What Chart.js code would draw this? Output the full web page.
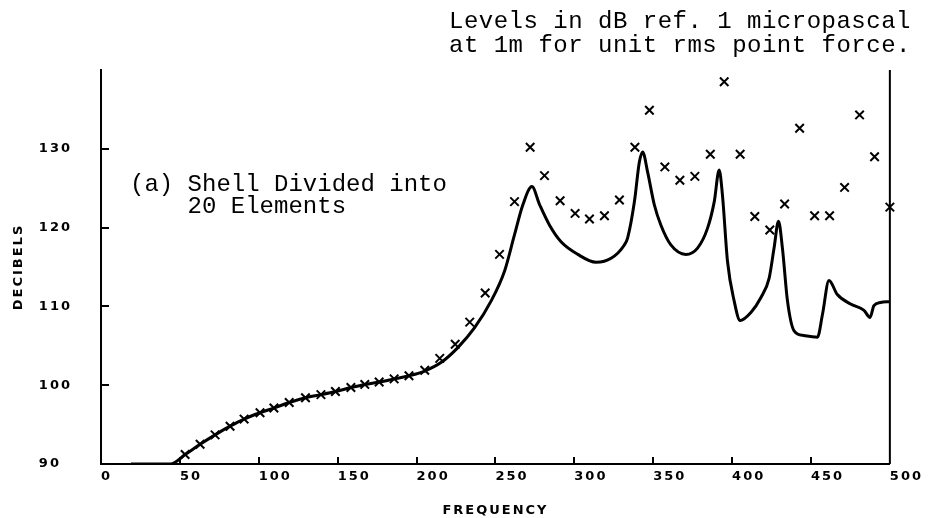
<!DOCTYPE html>
<html>
<head>
<meta charset="utf-8">
<script src="https://cdn.jsdelivr.net/npm/chart.js@4.4.0/dist/chart.umd.min.js"></script>
<style>
  html, body { margin: 0; padding: 0; background: #fff; }
  canvas { display: block; }
</style>
</head>
<body>
<canvas id="levelChart" width="928" height="518"></canvas>
<script>
// computed curve (solid line)
var curveFreq = [19, 44, 53.3, 62.8, 72.3, 81.8, 90.7, 100.8, 109.6, 119.3, 129.6, 139.4, 148.6, 158.4,
  167.2, 176.3, 185.8, 195.2, 205.2, 215.7, 226.3, 236.8, 247.3, 255.8, 262.1, 267.4, 273.1, 278.0,
  284.3, 291.6, 302.2, 313.8, 323.3, 331.7, 333.8, 338.1, 341.2, 343.3, 346.5, 350.7, 354.9, 361.2,
  370.7, 378.1, 384.4, 388.7, 391.8, 393.9, 397.1, 401.3, 405.1, 411.8, 418.2, 423.5, 426.6, 429.4,
  431.9, 435.1, 439.3, 445.6, 454.1, 457.3, 461.4, 466.7, 475.1, 483.6, 487.4, 489.9, 494.1, 500];
var curveDb = [90, 90, 91.2, 92.5, 93.7, 94.8, 95.7, 96.5, 97.1, 97.8, 98.4, 98.8, 99.2, 99.7,
  100.1, 100.4, 100.8, 101.2, 101.8, 102.9, 104.8, 107.3, 110.7, 114.5, 119.1, 122.9, 125.2, 122.9,
  120.3, 118.2, 116.6, 115.6, 116.1, 117.8, 118.7, 123.3, 128.3, 129.6, 127.0, 122.9, 120.3, 117.8,
  116.6, 117.4, 119.9, 123.3, 127.3, 124.1, 115.7, 110.7, 108.2, 109.2, 111.1, 113.6, 117.4, 120.8,
  117.4, 110.7, 106.9, 106.3, 106.1, 109.0, 113.3, 111.5, 110.3, 109.5, 108.6, 110.1, 110.5, 110.6];

// measured points (x marks)
var markFreq = [53.3, 62.8, 72.3, 81.8, 90.7, 100.8, 109.6, 119.3, 129.6, 139.4, 148.6, 158.4,
  167.2, 176.3, 185.8, 195.2, 205.2, 214.7, 224.5, 233.7, 243.5, 252.6, 262.1, 272.0, 281.1, 291.0,
  300.5, 309.6, 319.1, 328.6, 338.4, 347.6, 357.4, 366.9, 376.4, 386.2, 395.0, 405.1, 414.4, 423.9,
  433.3, 442.8, 452.3, 461.8, 471.3, 480.8, 490.3, 500.0];
var markDb = [91.2, 92.5, 93.7, 94.8, 95.7, 96.5, 97.1, 97.8, 98.4, 98.8, 99.2, 99.7,
  100.1, 100.4, 100.8, 101.2, 101.9, 103.4, 105.2, 108.0, 111.7, 116.6, 123.3, 130.2, 126.6, 123.4,
  121.8, 121.1, 121.5, 123.5, 130.2, 134.9, 127.7, 126.0, 126.5, 129.3, 138.5, 129.3, 121.4, 119.7,
  123.0, 132.6, 121.5, 121.5, 125.1, 134.3, 129.0, 122.6];

var xTicks = [0, 50, 100, 150, 200, 250, 300, 350, 400, 450, 500];
var yTicks = [90, 100, 110, 120, 130];

var noteLines = ['Levels in dB ref. 1 micropascal', 'at 1m for unit rms point force.'];
var caseLines = ['(a) Shell Divided into', '    20 Elements'];

function toPoints(xs, ys) {
  return xs.map(function (x, i) { return { x: x, y: ys[i] }; });
}

var axisFont = { family: '"DejaVu Sans", sans-serif', size: 13, weight: 'bold' };

// wide plotter-style lettering for the axis text
var spacing = {
  id: 'spacing',
  beforeLayout: function (chart) { chart.ctx.letterSpacing = '2px'; },
  beforeDraw: function (chart) { chart.ctx.letterSpacing = '2px'; }
};

// inward tick marks, right frame line and the typed notes
var frame = {
  id: 'frame',
  afterDraw: function (chart) {
    var ctx = chart.ctx, area = chart.chartArea;
    var x = chart.scales.x, y = chart.scales.y;
    ctx.save();
    ctx.strokeStyle = '#000';
    ctx.lineWidth = 2;
    ctx.beginPath();
    xTicks.forEach(function (v) {
      if (v <= x.min || v >= x.max) return;
      var px = Math.round(x.getPixelForValue(v));
      ctx.moveTo(px, area.bottom);
      ctx.lineTo(px, area.bottom - 7);
    });
    yTicks.forEach(function (v) {
      if (v <= y.min || v >= y.max) return;
      var py = Math.round(y.getPixelForValue(v));
      ctx.moveTo(area.left, py);
      ctx.lineTo(area.left + 8, py);
    });
    ctx.moveTo(area.right, area.top);
    ctx.lineTo(area.right, area.bottom);
    ctx.stroke();

    ctx.fillStyle = '#000';
    ctx.textAlign = 'left';
    ctx.textBaseline = 'alphabetic';
    ctx.font = '24px "Liberation Mono", monospace';
    ctx.letterSpacing = '0.5px';
    ctx.fillText(noteLines[0], 449, 28);
    ctx.fillText(noteLines[1], 449, 52);
    ctx.letterSpacing = '0px';
    ctx.fillText(caseLines[0], 130, 191);
    ctx.fillText(caseLines[1], 130, 213);
    ctx.restore();
  }
};

new Chart(document.getElementById('levelChart'), {
  type: 'scatter',
  data: {
    datasets: [{
      label: 'computed',
      data: toPoints(curveFreq, curveDb),
      showLine: true,
      borderColor: '#000',
      borderWidth: 3,
      pointRadius: 0,
      cubicInterpolationMode: 'monotone'
    }, {
      label: 'measured',
      data: toPoints(markFreq, markDb),
      showLine: false,
      pointStyle: 'crossRot',
      pointRadius: 6,
      borderColor: '#000',
      borderWidth: 2,
      clip: false
    }]
  },
  plugins: [spacing, frame],
  options: {
    responsive: false,
    animation: false,
    devicePixelRatio: 1,
    layout: { padding: { top: 70, right: 35, left: 0, bottom: 0 } },
    plugins: { legend: { display: false }, tooltip: { enabled: false } },
    scales: {
      x: {
        type: 'linear',
        min: 0,
        max: 500,
        afterBuildTicks: function (s) { s.ticks = xTicks.map(function (v) { return { value: v }; }); },
        afterFit: function (s) { s.height = 54; },
        grid: { drawOnChartArea: false, drawTicks: false },
        border: { display: true, color: '#000', width: 2 },
        ticks: { align: 'start', padding: 5, color: '#000', font: axisFont, maxRotation: 0 },
        title: { display: true, text: 'FREQUENCY', color: '#000', font: axisFont, padding: { top: 0, bottom: 0 } }
      },
      y: {
        type: 'linear',
        min: 90,
        max: 140,
        afterBuildTicks: function (s) { s.ticks = yTicks.map(function (v) { return { value: v }; }); },
        afterFit: function (s) { s.width = 101; },
        grid: { drawOnChartArea: false, drawTicks: false },
        border: { display: true, color: '#000', width: 2 },
        ticks: {
          padding: 29, color: '#000', font: axisFont,
          // labels sit flush left in the original, so pad 2-digit values with a figure space
          callback: function (v) { return v < 100 ? v + '\u2007' : String(v); }
        },
        title: { display: true, text: 'DECIBELS', color: '#000', font: axisFont, padding: { top: 11, bottom: 0 } }
      }
    }
  }
});
</script>
</body>
</html>
